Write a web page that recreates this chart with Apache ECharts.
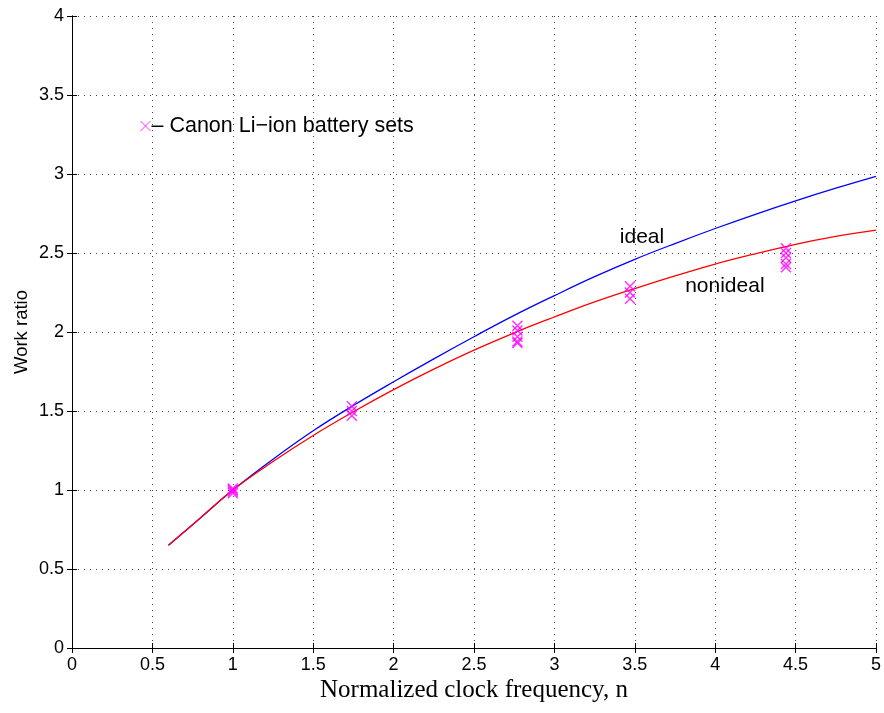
<!DOCTYPE html>
<html>
<head>
<meta charset="utf-8">
<script src="https://cdn.jsdelivr.net/npm/echarts@6/dist/echarts.min.js"></script>
<style>
  html, body { margin: 0; padding: 0; background: #fff; }
  #chart { width: 884px; height: 713px; }
</style>
</head>
<body>
<div id="chart"></div>
<script>
// Normalized clock frequency samples for the model curves
const curveN = [0.6, 0.8, 1, 1.25, 1.5, 1.75, 2, 2.25, 2.5, 2.75, 3, 3.25, 3.5, 3.75, 4, 4.25, 4.5, 4.75, 5];
// Work ratio, ideal model
const idealRatio = [0.65, 0.825, 1.0, 1.195, 1.375, 1.535, 1.685, 1.83, 1.97, 2.105, 2.23, 2.35, 2.46, 2.56, 2.655, 2.745, 2.83, 2.91, 2.985];
// Work ratio, nonideal model
const nonidealRatio = [0.65, 0.825, 1.0, 1.18, 1.345, 1.495, 1.635, 1.765, 1.885, 1.995, 2.095, 2.19, 2.275, 2.355, 2.43, 2.495, 2.555, 2.605, 2.645];

// Measured Canon Li-ion battery sets
const measuredN = [1.0, 1.0, 1.0, 1.0,
                   1.74, 1.74, 1.74,
                   2.77, 2.77, 2.77, 2.77, 2.77,
                   3.47, 3.47, 3.47,
                   4.44, 4.44, 4.44, 4.44, 4.44];
const measuredRatio = [1.01, 1.0, 0.99, 0.98,
                       1.53, 1.50, 1.47,
                       2.04, 2.01, 1.97, 1.94, 1.93,
                       2.29, 2.25, 2.21,
                       2.53, 2.50, 2.47, 2.43, 2.41];

const xTicks = [0, 0.5, 1, 1.5, 2, 2.5, 3, 3.5, 4, 4.5, 5];
const yTicks = [0, 0.5, 1, 1.5, 2, 2.5, 3, 3.5, 4];

const seriesName = 'Canon Li\u2212ion battery sets';
const crossPath = 'path://M0,0L10,10M10,0L0,10';

const pair = (xs, ys) => xs.map((x, i) => [x, ys[i]]);

const sans = 'Liberation Sans, Arial, Helvetica, sans-serif';
const serif = 'Liberation Serif, Times New Roman, serif';

const gridLine = { show: true, lineStyle: { color: '#444', width: 1, type: [1, 5] } };
const tickIn = { show: true, inside: true, length: 5, lineStyle: { color: '#000' } };
const axisLine = { show: true, lineStyle: { color: '#000', width: 1 } };

// Text label placed at a data coordinate on a curve series
const curveTag = (text, coord) => ({
  symbol: 'circle', symbolSize: 1,
  itemStyle: { color: 'transparent' },
  label: { show: true, position: 'inside', formatter: text, fontFamily: sans, fontSize: 21, color: '#000' },
  data: [{ coord: coord }]
});

const chart = echarts.init(document.getElementById('chart'), null, { renderer: 'canvas' });

chart.setOption({
  animation: false,
  backgroundColor: '#fff',
  grid: { left: 72, right: 8, top: 16, bottom: 65, containLabel: false },
  legend: {
    show: true,
    left: 138, top: 115, padding: 0,
    itemWidth: 10, itemHeight: 10, itemGap: 2,
    formatter: '\u2013 {name}',
    textStyle: { fontFamily: sans, fontSize: 21.5, color: '#000', padding: [0, 0, 0, -4] },
    data: [{
      name: seriesName,
      icon: crossPath,
      itemStyle: { color: 'none', borderColor: '#ff00ff', borderWidth: 1 }
    }]
  },
  xAxis: [{
    type: 'value', min: 0, max: 5, interval: 0.5, position: 'bottom',
    axisLine: axisLine, axisTick: tickIn, splitLine: gridLine,
    axisLabel: {
      fontFamily: sans, fontSize: 18, color: '#000', margin: 8,
      formatter: v => (xTicks.includes(v) ? String(v) : '')
    },
    name: 'Normalized clock frequency, n', nameLocation: 'middle', nameGap: 30,
    nameMoveOverlap: false,
    nameTextStyle: { fontFamily: serif, fontSize: 25, color: '#000', verticalAlign: 'top' }
  }, {
    type: 'value', min: 0, max: 5, interval: 0.5, position: 'top',
    axisLine: axisLine, axisTick: tickIn, splitLine: { show: false },
    axisLabel: { show: false }
  }],
  yAxis: [{
    type: 'value', min: 0, max: 4, interval: 0.5, position: 'left',
    axisLine: axisLine, axisTick: tickIn, splitLine: gridLine,
    axisLabel: {
      fontFamily: sans, fontSize: 18, color: '#000', margin: 8,
      formatter: v => (yTicks.includes(v) ? String(v) : '')
    },
    name: 'Work ratio', nameLocation: 'middle', nameGap: 41,
    nameMoveOverlap: false,
    nameTextStyle: { fontFamily: sans, fontSize: 18.5, color: '#000' }
  }, {
    type: 'value', min: 0, max: 4, interval: 0.5, position: 'right',
    axisLine: axisLine, axisTick: tickIn, splitLine: { show: false },
    axisLabel: { show: false }
  }],
  series: [{
    name: 'ideal', type: 'line', smooth: 0.4, showSymbol: false, symbol: 'none',
    data: pair(curveN, idealRatio),
    lineStyle: { color: '#0000ff', width: 1.3 },
    z: 3,
    markPoint: curveTag('ideal', [3.545, 2.6])
  }, {
    name: 'nonideal', type: 'line', smooth: 0.4, showSymbol: false, symbol: 'none',
    data: pair(curveN, nonidealRatio),
    lineStyle: { color: '#ff0000', width: 1.3 },
    z: 4,
    markPoint: curveTag('nonideal', [4.06, 2.29])
  }, {
    name: seriesName, type: 'scatter',
    symbol: crossPath, symbolSize: 10,
    data: pair(measuredN, measuredRatio),
    itemStyle: { color: 'none', borderColor: '#ff00ff', borderWidth: 1.5 },
    z: 5
  }]
});
</script>
</body>
</html>
